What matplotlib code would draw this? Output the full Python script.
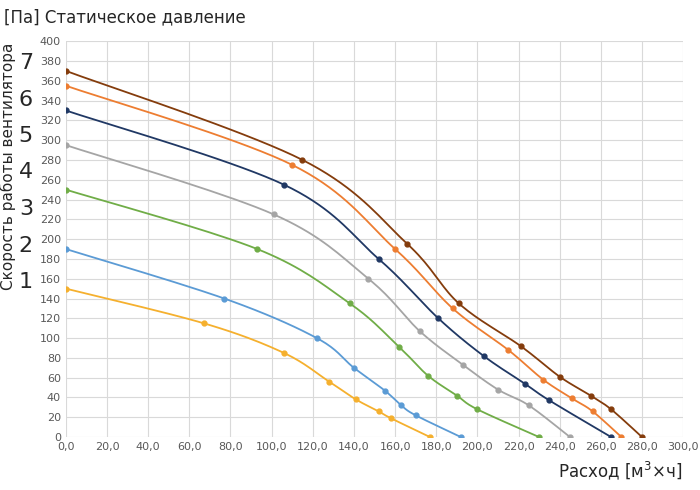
import numpy as np
import matplotlib.pyplot as plt

# Скорости 1..7: расход и статическое давление
x1 = [0, 67, 106, 128, 141, 152, 158, 177]
y1 = [150, 115, 85, 56, 38, 26, 19, 0]
x2 = [0, 77, 122, 140, 155, 163, 170, 192]
y2 = [190, 140, 100, 70, 47, 32, 22, 0]
x3 = [0, 93, 138, 162, 176, 190, 200, 230]
y3 = [250, 190, 135, 91, 62, 42, 28, 0]
x4 = [0, 101, 147, 172, 193, 210, 225, 245]
y4 = [295, 225, 160, 107, 73, 48, 32, 0]
x5 = [0, 106, 152, 181, 203, 223, 235, 265]
y5 = [330, 255, 180, 120, 82, 54, 37, 0]
x6 = [0, 110, 160, 188, 215, 232, 246, 256, 270]
y6 = [355, 275, 190, 130, 88, 58, 39, 26, 0]
x7 = [0, 115, 166, 191, 221, 240, 255, 265, 280]
y7 = [370, 280, 195, 135, 92, 61, 42, 28, 0]

colors = ['#F5B02E', '#5B9BD5', '#70AD47', '#A5A5A5', '#203864', '#ED7D31', '#843C0C']
series = [(x1, y1), (x2, y2), (x3, y3), (x4, y4), (x5, y5), (x6, y6), (x7, y7)]
speeds = ['1', '2', '3', '4', '5', '6', '7']


def smooth(x, y, n=20):
    # сглаженная линия (Catmull-Rom) как в Excel
    p = np.column_stack([x, y]).astype(float)
    p = np.vstack([p[0], p, p[-1]])
    out = []
    for i in range(1, len(p) - 2):
        p0, p1, p2, p3 = p[i - 1], p[i], p[i + 1], p[i + 2]
        t = np.linspace(0, 1, n)[:, None]
        seg = 0.5 * ((2 * p1) + (-p0 + p2) * t + (2 * p0 - 5 * p1 + 4 * p2 - p3) * t ** 2
                     + (-p0 + 3 * p1 - 3 * p2 + p3) * t ** 3)
        out.append(seg)
    s = np.vstack(out)
    return s[:, 0], s[:, 1]


fig = plt.figure(figsize=(7, 4.9), dpi=100)
ax = fig.add_axes([0.094, 0.108, 0.882, 0.808])
for (x, y), c in zip(series, colors):
    sx, sy = smooth(x, y)
    ax.plot(sx, sy, color=c, lw=1.3)
    ax.plot(x, y, 'o', color=c, ms=3.5)

ax.set_xlim(0, 300)
ax.set_ylim(0, 400)
ax.set_xticks(np.arange(0, 301, 20))
ax.set_xticklabels([f'{v},0' for v in range(0, 301, 20)], fontsize=8, color='#595959')
ax.set_yticks(np.arange(0, 401, 20))
ax.set_yticklabels([str(v) for v in range(0, 401, 20)], fontsize=8, color='#595959')
ax.grid(True, color='#D9D9D9', lw=0.8)
ax.set_axisbelow(True)
for s in ax.spines.values():
    s.set_visible(False)
ax.tick_params(length=0)

fig.text(0.005, 0.955, '[Па] Статическое давление', fontsize=12, color='#262626')
fig.text(0.975, 0.025, 'Расход [м$^3$×ч]', fontsize=12, color='#262626', ha='right')
fig.text(0.0, 0.66, 'Скорость работы вентилятора', rotation=90, fontsize=11,
         color='#262626', va='center')
for i, lab in enumerate(speeds):
    ypix = 282 - i * 36.5
    fig.text(0.037, 1 - ypix / 490, lab, fontsize=16, color='#262626',
             va='center', ha='center')

fig.savefig('out.png')
